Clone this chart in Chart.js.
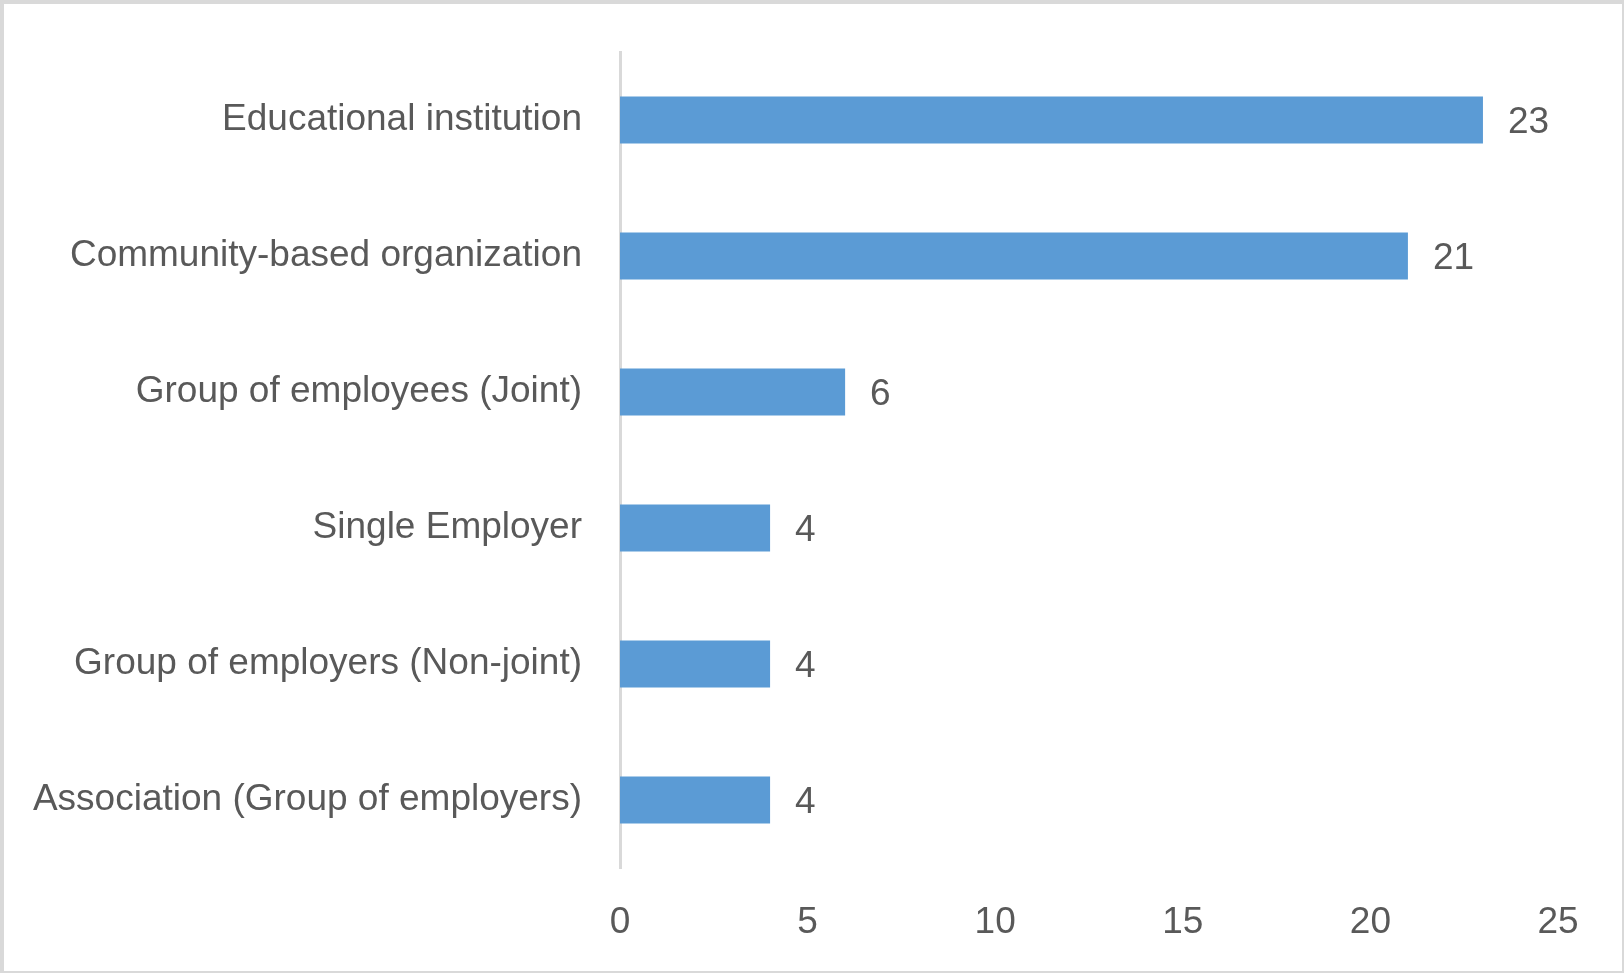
<!DOCTYPE html>
<html>
<head>
<meta charset="utf-8">
<title>Bar chart</title>
<script src="https://cdn.jsdelivr.net/npm/chart.js@4/dist/chart.umd.min.js"></script>
<style>
    html, body { margin: 0; padding: 0; background: #fff; }
    #wrap { position: absolute; left: 0; top: 0; width: 1624px; height: 973px; }
    #frame {
        position: absolute; left: 0; top: 0; width: 1624px; height: 973px;
        box-sizing: border-box; pointer-events: none;
        border-style: solid; border-color: #d9d9d9;
        border-width: 4px 2px 2px 4px;
    }
</style>
</head>
<body>
<div id="wrap">
    <canvas id="barChart" width="1624" height="973"></canvas>
    <div id="frame"></div>
</div>
<script>
// ---- data ----
var categories = [
    'Educational institution',
    'Community-based organization',
    'Group of employees (Joint)',
    'Single Employer',
    'Group of employers (Non-joint)',
    'Association (Group of employers)'
];
var counts = [23, 21, 6, 4, 4, 4];
var xTickValues = [0, 5, 10, 15, 20, 25];

var textGrey = '#595959';
var fontFamily = '"Liberation Sans", Arial, sans-serif';

// value labels at bar ends
var valueLabels = {
    id: 'valueLabels',
    afterDatasetsDraw: function (chart) {
        var ctx = chart.ctx;
        var meta = chart.getDatasetMeta(0);
        ctx.save();
        ctx.fillStyle = textGrey;
        ctx.font = '37px ' + fontFamily;
        ctx.textAlign = 'left';
        ctx.textBaseline = 'middle';
        meta.data.forEach(function (bar, i) {
            ctx.fillText(String(counts[i]), bar.x + 25, bar.y + 3);
        });
        ctx.restore();
    }
};

new Chart(document.getElementById('barChart'), {
    type: 'bar',
    data: {
        labels: categories,
        datasets: [{
            data: counts,
            backgroundColor: '#5b9bd5',
            borderWidth: 0,
            categoryPercentage: 1,
            barPercentage: 0.345
        }]
    },
    options: {
        indexAxis: 'y',
        responsive: false,
        animation: false,
        layout: { padding: { top: 52, right: 66, bottom: 0, left: 0 } },
        plugins: {
            legend: { display: false },
            tooltip: { enabled: false }
        },
        scales: {
            x: {
                min: 0,
                max: 25,
                afterBuildTicks: function (axis) {
                    axis.ticks = xTickValues.map(function (v) { return { value: v }; });
                },
                afterFit: function (axis) { axis.height = 105; },
                grid: { display: false, drawTicks: false },
                border: { display: false },
                ticks: {
                    padding: 33,
                    color: textGrey,
                    font: { family: fontFamily, size: 37 },
                    maxRotation: 0
                }
            },
            y: {
                afterFit: function (axis) {
                    axis.width = 620;
                    axis.paddingTop = 0;
                    axis.paddingBottom = 0;
                },
                grid: { display: false, drawTicks: false },
                border: { display: true, color: '#d9d9d9', width: 3 },
                ticks: {
                    padding: 38,
                    color: textGrey,
                    font: { family: fontFamily, size: 37 }
                }
            }
        }
    },
    plugins: [valueLabels]
});
</script>
</body>
</html>
